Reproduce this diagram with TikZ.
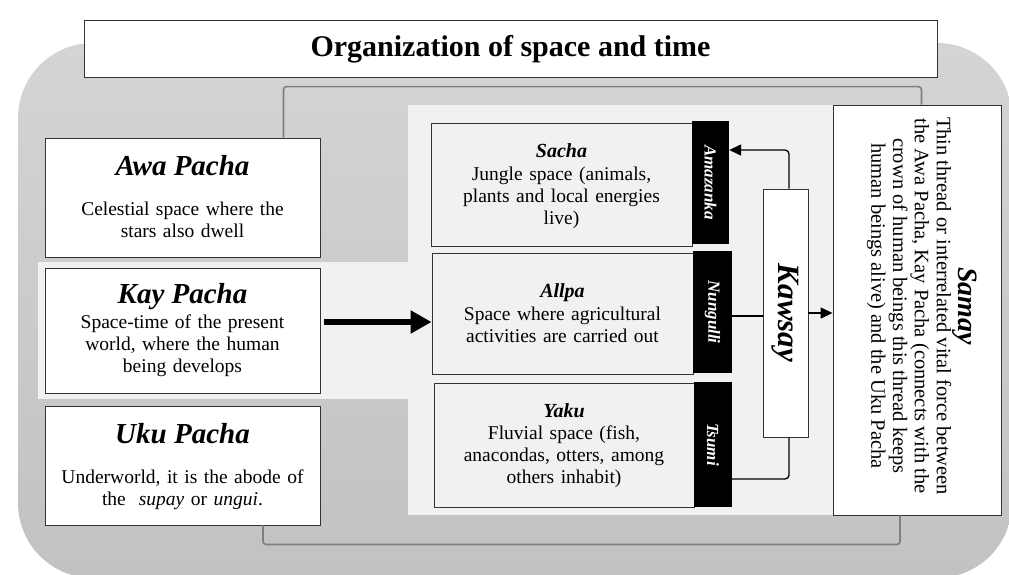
\documentclass[tikz,border=0pt]{standalone}
\usepackage{fontspec}
\setmainfont{Liberation Serif}
\usetikzlibrary{arrows.meta}
\definecolor{bgtop}{HTML}{D4D4D4}
\definecolor{bgbot}{HTML}{C2C2C2}
\definecolor{panel}{HTML}{F1F1F1}
\definecolor{edge}{HTML}{333333}
\definecolor{conngray}{HTML}{7F7F7F}
\newcommand\hdfont{\bfseries\itshape\fontsize{29}{32}\selectfont}
\newcommand\shdfont{\bfseries\itshape\fontsize{20}{22}\selectfont}
\newcommand\bdfont{\fontsize{19.5}{22.3}\selectfont}
\newcommand\sbdfont{\fontsize{20.5}{21.8}\selectfont}
\newcommand\tagfont{\bfseries\itshape\fontsize{17}{19}\selectfont}
\newcommand\ttlfont{\bfseries\fontsize{30}{33}\selectfont}
\begin{document}
\begin{tikzpicture}[x=1pt,y=-1pt,
  box/.style={draw=edge, line width=0.9pt, inner sep=0pt},
  wbox/.style={box, fill=white},
  pbox/.style={box, fill=panel},
  tag/.style={fill=black, inner sep=0pt},
  hd/.style={font=\hdfont, anchor=base, inner sep=0pt},
  shd/.style={font=\shdfont, anchor=base, inner sep=0pt},
  bd/.style={font=\bdfont, anchor=base, inner sep=0pt, align=center, text width=#1},
  bd/.default=262pt,
  tagtxt/.style={font=\tagfont, text=white, rotate=-90, inner sep=0pt},
  conn/.style={draw=conngray, line width=1.6pt, rounded corners=3pt},
  link/.style={draw=black, line width=1.3pt, rounded corners=4pt},
  ar/.style={-{Triangle[length=12pt,width=11pt]}}
]
\useasboundingbox (0,0) rectangle (1009,574);
\shade[top color=bgtop, bottom color=bgbot, rounded corners=75pt] (18,43) rectangle (1012,578);
\fill[panel] (408,105) rectangle (833,515);
\fill[panel] (38,262) rectangle (408,399);

% title
\node[wbox, minimum width=853pt, minimum height=57pt] (title) at (510.5,48.5) {};
\node[font=\ttlfont, inner sep=0pt] (titleT) at ([yshift=-1pt]title.center) {Organization of space and time};

% left column
\node[wbox, minimum width=275pt, minimum height=119pt] (awa) at (182.5,197.5) {};
\node[wbox, minimum width=275pt, minimum height=125pt] (kay) at (182.5,330.5) {};
\node[wbox, minimum width=275pt, minimum height=119pt] (uku) at (182.5,465.5) {};

% panel boxes
\node[pbox, minimum width=261pt, minimum height=123pt] (sacha) at (561.5,184.5) {};
\node[pbox, minimum width=261pt, minimum height=121pt] (allpa) at (562.5,313.5) {};
\node[pbox, minimum width=260pt, minimum height=124pt] (yaku) at (564,445) {};
\node[tag, minimum width=37pt, minimum height=123pt] (amazanka) at (710.5,182.5) {};
\node[tag, minimum width=39pt, minimum height=122pt] (nungulli) at (712.5,312) {};
\node[tag, minimum width=38pt, minimum height=125pt] (tsumi) at (713,444.5) {};
\node[wbox, minimum width=45pt, minimum height=248pt] (kawsay) at (785.5,313) {};
\node[wbox, minimum width=168pt, minimum height=410pt] (samay) at (917,310) {};

% connectors
\draw[conn] ([xshift=-37pt]awa.north east) -- ++(0,-51) -| ([xshift=-80pt]samay.north east);
\draw[conn] ([xshift=80.5pt]uku.south) -- ++(0,19) -| ([xshift=-17pt]samay.south);
\coordinate (kayout) at ([xshift=4pt,yshift=8.5pt]kay.east);
\draw[line width=6.5pt, -{Triangle[length=21pt,width=22pt]}] (kayout) -- (kayout -| allpa.west);
\draw[link, ar] ([xshift=3.5pt]kawsay.north) |- ([yshift=32.5pt]amazanka.east);
\draw[link] ([yshift=-4pt]nungulli.east) -- ([yshift=-4pt]nungulli.east -| kawsay.west);
\draw[link] ([xshift=3.5pt]kawsay.south) |- ([yshift=-34.5pt]tsumi.east);
\draw[link, ar] (kawsay.east) -- (kawsay.east -| samay.west);

% texts left
\node[hd] (awaH) at (182.5,175) {Awa Pacha};
\node[bd] (awaB) at (182.5,215) {Celestial space where the\\stars also dwell};
\node[hd] (kayH) at (182.5,303) {Kay Pacha};
\node[bd] (kayB) at (182.5,328) {Space-time of the present\\world, where the human\\being develops};
\node[hd] (ukuH) at (182.5,443) {Uku Pacha};
\node[bd] (ukuB) at (182.5,483) {Underworld, it is the abode of\\the~ \textit{supay} or \textit{ungui}.};

% texts panel
\node[shd] (sachaH) at (561.5,157) {Sacha};
\node[bd=250pt] (sachaB) at (561.5,180) {Jungle space (animals,\\plants and local energies\\live)};
\node[shd] (allpaH) at (562.5,297) {Allpa};
\node[bd=250pt] (allpaB) at (562.5,320) {Space where agricultural\\activities are carried out};
\node[shd] (yakuH) at (564,417) {Yaku};
\node[bd=250pt] (yakuB) at (564,439) {Fluvial space (fish,\\anacondas, otters, among\\others inhabit)};

\node[tagtxt] (amazankaT) at (amazanka.center) {Amazanka};
\node[tagtxt] (nungulliT) at (nungulli.center) {Nungulli};
\node[tagtxt] (tsumiT) at (tsumi.center) {Tsumi};
\node[font=\bfseries\itshape\fontsize{31}{33}\selectfont, rotate=-90, inner sep=0pt] (kawsayT) at (kawsay.center) {Kawsay};

\node[font=\sbdfont, rotate=-90, align=center, inner sep=0pt] (samayT) at (922,306)
  {{\bfseries\itshape\fontsize{28}{28}\selectfont Samay}\\Thin thread or interrelated vital force between\\the Awa Pacha, Kay Pacha (connects with the\\crown of human beings this thread keeps\\human beings alive) and the Uku Pacha};
\end{tikzpicture}
\end{document}
